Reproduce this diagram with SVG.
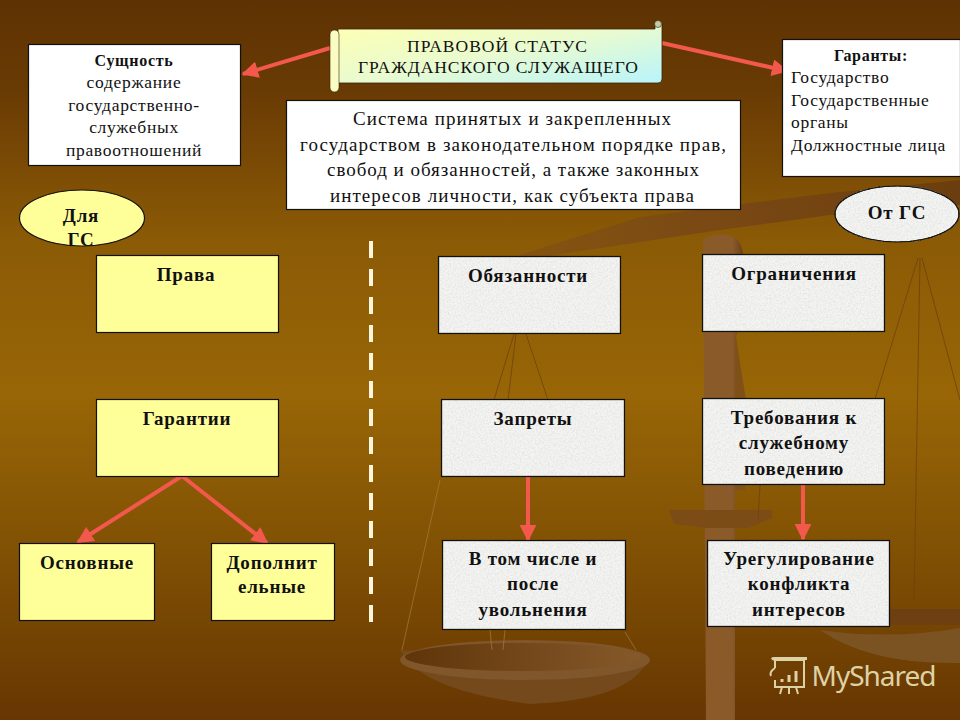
<svg xmlns="http://www.w3.org/2000/svg" width="960" height="720" viewBox="0 0 960 720">
<defs>
<linearGradient id="bg" x1="0" y1="0" x2="0" y2="1">
<stop offset="0" stop-color="#5f3203"/><stop offset="0.12" stop-color="#683a04"/><stop offset="0.33" stop-color="#8b5a06"/><stop offset="0.55" stop-color="#986606"/><stop offset="0.78" stop-color="#7f4f04"/><stop offset="1" stop-color="#673602"/>
</linearGradient>
<linearGradient id="scroll" x1="0" y1="0" x2="1" y2="1">
<stop offset="0" stop-color="#ffffb0"/><stop offset="0.5" stop-color="#eafbcf"/><stop offset="1" stop-color="#b8f4fb"/>
</linearGradient>
<linearGradient id="post" x1="0" y1="0" x2="1" y2="0">
<stop offset="0" stop-color="#8a5a28"/><stop offset="0.65" stop-color="#8a5a2a"/><stop offset="1" stop-color="#5d3510"/>
</linearGradient>
<linearGradient id="beam" x1="0" y1="0" x2="1" y2="0">
<stop offset="0" stop-color="#86540f"/><stop offset="0.4" stop-color="#7b4a14"/><stop offset="1" stop-color="#6c3d0e"/>
</linearGradient>
<linearGradient id="pan" x1="0" y1="0" x2="1" y2="0">
<stop offset="0" stop-color="#5f3509"/><stop offset="1" stop-color="#86592a"/>
</linearGradient>
<filter id="grain" x="0" y="0" width="100%" height="100%">
<feTurbulence type="fractalNoise" baseFrequency="0.6" numOctaves="3" seed="4" result="t"/>
<feColorMatrix in="t" values="0 0 0 0 0.78  0 0 0 0 0.78  0 0 0 0 0.76  1.6 1.6 0 0 -1.3" result="n"/>
<feComposite in="n" in2="SourceGraphic" operator="atop"/>
</filter>
<marker id="ah" viewBox="0 0 10 10" refX="9" refY="5" markerWidth="4.2" markerHeight="4.2" orient="auto-start-reverse">
<path d="M0 0L10 5L0 10Z" fill="#f2584c"/>
</marker>
<style>
text{font-family:"Liberation Serif","Times New Roman",serif;fill:#111;text-anchor:middle}
.b{font-weight:bold;font-size:19px;letter-spacing:.8px}
.y{fill:#ffff99;stroke:#111;stroke-width:1.2}
.g{fill:#f4f4f2;stroke:#111;stroke-width:1.2}
.w{fill:#fff;stroke:#111;stroke-width:1.2}
.n{font-size:17.500px;letter-spacing:.7px}
.r{font-size:19px}
.c{fill:none;stroke:#f2584c;stroke-width:4;marker-end:url(#ah)}
.rope{fill:none;stroke:#6d4210;stroke-width:1;opacity:.8}
.rope2{fill:none;stroke:#a57c3c;stroke-width:1;opacity:.7}
</style>
</defs>
<rect width="960" height="720" fill="url(#bg)"/>

<g id="scales">
<path d="M735 330Q741 370 746 400L745 490H735Z" fill="#7f5018"/>
<path d="M703 240Q722 228 738 240Q746 250 748 300L735 340V720H706Z" fill="url(#post)"/>
<path d="M510 258L640 217L830 193L960 180V205L830 215L720 230L640 242L510 262Z" fill="url(#beam)"/>
<path d="M669 510H772V518L748 528H706L674 524Z" fill="#7c4c16"/>
<path d="M400 650Q420 690 530 704Q630 700 648 660Z" fill="#74491b"/>
<ellipse cx="525" cy="660" rx="125" ry="20" fill="#80572a"/>
<ellipse cx="523" cy="657" rx="118" ry="14" fill="url(#pan)"/>
<path d="M820 630Q890 640 960 628V663Q870 665 820 630Z" fill="#7b5222"/>
<path d="M890 609H960V625H890Z" fill="#6e3f10"/>
<path class="rope" d="M918 258L875 399M920 258L914 600M922 258L960 400"/>
<path class="rope" d="M514 334L494 400M516 334L508 400M526 334L548 400M760 485L758 520"/>
<path class="rope2" d="M440 480L402 650M490 630L492 650M505 630L503 650M625 632L636 650"/>
</g>

<g id="divider">
<path d="M371 241V623" stroke="#fdf6dc" stroke-width="4" stroke-dasharray="17 11" fill="none"/>
</g>

<g id="connectors">
<path class="c" d="M330 48L243 74"/>
<path class="c" d="M662 43L787 71"/>
<path class="c" d="M182 476L78 542"/>
<path class="c" d="M182 476L267 543"/>
<path class="c" d="M528 476V540"/>
<path class="c" d="M803 484V539"/>
</g>

<g id="title">
<path d="M338 29H655V22Q659 19 662 23V79Q662 83 658 83H338Z" fill="url(#scroll)" stroke="#3a2408" stroke-width=".8"/>
<rect x="330" y="30" width="9" height="62" rx="4.500" fill="#fbfbc4" stroke="#3a2408" stroke-width=".6"/>
<circle cx="658" cy="24" r="3.500" fill="#c5c9a6" stroke="#3a2408" stroke-width=".6"/>
<text x="497" y="52" class="n" style="letter-spacing:0" textLength="180">ПРАВОВОЙ СТАТУС</text>
<text x="498" y="73" class="n" style="letter-spacing:0" textLength="280">ГРАЖДАНСКОГО СЛУЖАЩЕГО</text>
</g>
<g id="essence">
<rect class="w" x="28.500" y="44.500" width="212" height="121"/>
<text x="134" y="66" class="n" font-weight="bold" style="font-size:16px">Сущность</text>
<text x="134" y="88" class="n">содержание</text>
<text x="134" y="111" class="n">государственно-</text>
<text x="134" y="133" class="n">служебных</text>
<text x="134" y="156" class="n">правоотношений</text>
</g>
<g id="guarantors">
<rect class="w" x="782.500" y="39.500" width="178" height="137"/>
<text x="871" y="61" class="n" font-weight="bold" style="font-size:16px">Гаранты:</text>
<text x="791" y="83" class="n" style="text-anchor:start">Государство</text>
<text x="791" y="106" class="n" style="text-anchor:start">Государственные</text>
<text x="791" y="128" class="n" style="text-anchor:start">органы</text>
<text x="791" y="151" class="n" style="text-anchor:start">Должностные лица</text>
</g>
<g id="definition">
<rect class="w" x="286.500" y="100.500" width="454" height="109"/>
<text x="512" y="125" class="r" textLength="318">Система принятых и закрепленных</text>
<text x="513" y="151" class="r" textLength="426">государством в законодательном порядке прав,</text>
<text x="513" y="176" class="r" textLength="372">свобод и обязанностей, а также законных</text>
<text x="512" y="202" class="r" textLength="364">интересов личности, как субъекта права</text>
</g>
<g id="for-gs">
<ellipse class="y" cx="82" cy="218" rx="62.500" ry="28"/>
<text x="81" y="222" class="b">Для</text>
<text x="81" y="246" class="b">ГС</text>
</g>
<g id="from-gs">
<ellipse class="g" cx="897" cy="214" rx="62" ry="28" filter="url(#grain)"/>
<ellipse cx="897" cy="214" rx="62" ry="28" fill="none" stroke="#111" stroke-width="1.200"/>
<text x="897" y="219" class="b">От ГС</text>
</g>
<g id="rights">
<rect class="y" x="96.500" y="255.500" width="182" height="77"/>
<text x="186" y="281" class="b">Права</text>
</g>
<g id="guarantees">
<rect class="y" x="96.500" y="399.500" width="182" height="77"/>
<text x="187" y="425" class="b">Гарантии</text>
</g>
<g id="basic">
<rect class="y" x="19.500" y="543.500" width="135" height="77"/>
<text x="87" y="569" class="b">Основные</text>
</g>
<g id="additional">
<rect class="y" x="211.500" y="543.500" width="123" height="77"/>
<text x="272" y="569" class="b">Дополнит</text>
<text x="272" y="593" class="b">ельные</text>
</g>
<g id="duties">
<rect class="g" x="438.500" y="256.500" width="182" height="77" filter="url(#grain)"/>
<rect x="438.500" y="256.500" width="182" height="77" fill="none" stroke="#111" stroke-width="1.200"/>
<text x="528" y="282" class="b">Обязанности</text>
</g>
<g id="limits">
<rect class="g" x="702.500" y="254.500" width="182" height="77" filter="url(#grain)"/>
<rect x="702.500" y="254.500" width="182" height="77" fill="none" stroke="#111" stroke-width="1.200"/>
<text x="794" y="280" class="b">Ограничения</text>
</g>
<g id="bans">
<rect class="g" x="441.500" y="399.500" width="183" height="77" filter="url(#grain)"/>
<rect x="441.500" y="399.500" width="183" height="77" fill="none" stroke="#111" stroke-width="1.200"/>
<text x="533" y="425" class="b">Запреты</text>
</g>
<g id="requirements">
<rect class="g" x="702.500" y="398.500" width="182" height="86" filter="url(#grain)"/>
<rect x="702.500" y="398.500" width="182" height="86" fill="none" stroke="#111" stroke-width="1.200"/>
<text x="794" y="424" class="b">Требования к</text>
<text x="794" y="449" class="b">служебному</text>
<text x="794" y="475" class="b">поведению</text>
</g>
<g id="after-dismissal">
<rect class="g" x="442.500" y="540.500" width="183" height="89" filter="url(#grain)"/>
<rect x="442.500" y="540.500" width="183" height="89" fill="none" stroke="#111" stroke-width="1.200"/>
<text x="533" y="565" class="b">В том числе и</text>
<text x="533" y="590" class="b">после</text>
<text x="533" y="616" class="b">увольнения</text>
</g>
<g id="conflict">
<rect class="g" x="707.500" y="540.500" width="182" height="86" filter="url(#grain)"/>
<rect x="707.500" y="540.500" width="182" height="86" fill="none" stroke="#111" stroke-width="1.200"/>
<text x="799" y="565" class="b">Урегулирование</text>
<text x="799" y="590" class="b">конфликта</text>
<text x="799" y="616" class="b">интересов</text>
</g>
<g id="watermark" fill="none" stroke="#ddd2a6" stroke-width="2">
<path d="M775 668V660H804V687H775V680M775 660Q770 658 774 658H806V660M775 668Q769 672 771 676M780 694L782 687M789 694V687M798 694L796 687"/>
<path d="M782 682V679M789 682V675M796 682V671" stroke-width="3"/>
<text x="874" y="686" textLength="125" style="font-family:'Noto Sans',sans-serif;font-size:28px;fill:#ddd2a6;stroke:none">MyShared</text>
</g>
</svg>
